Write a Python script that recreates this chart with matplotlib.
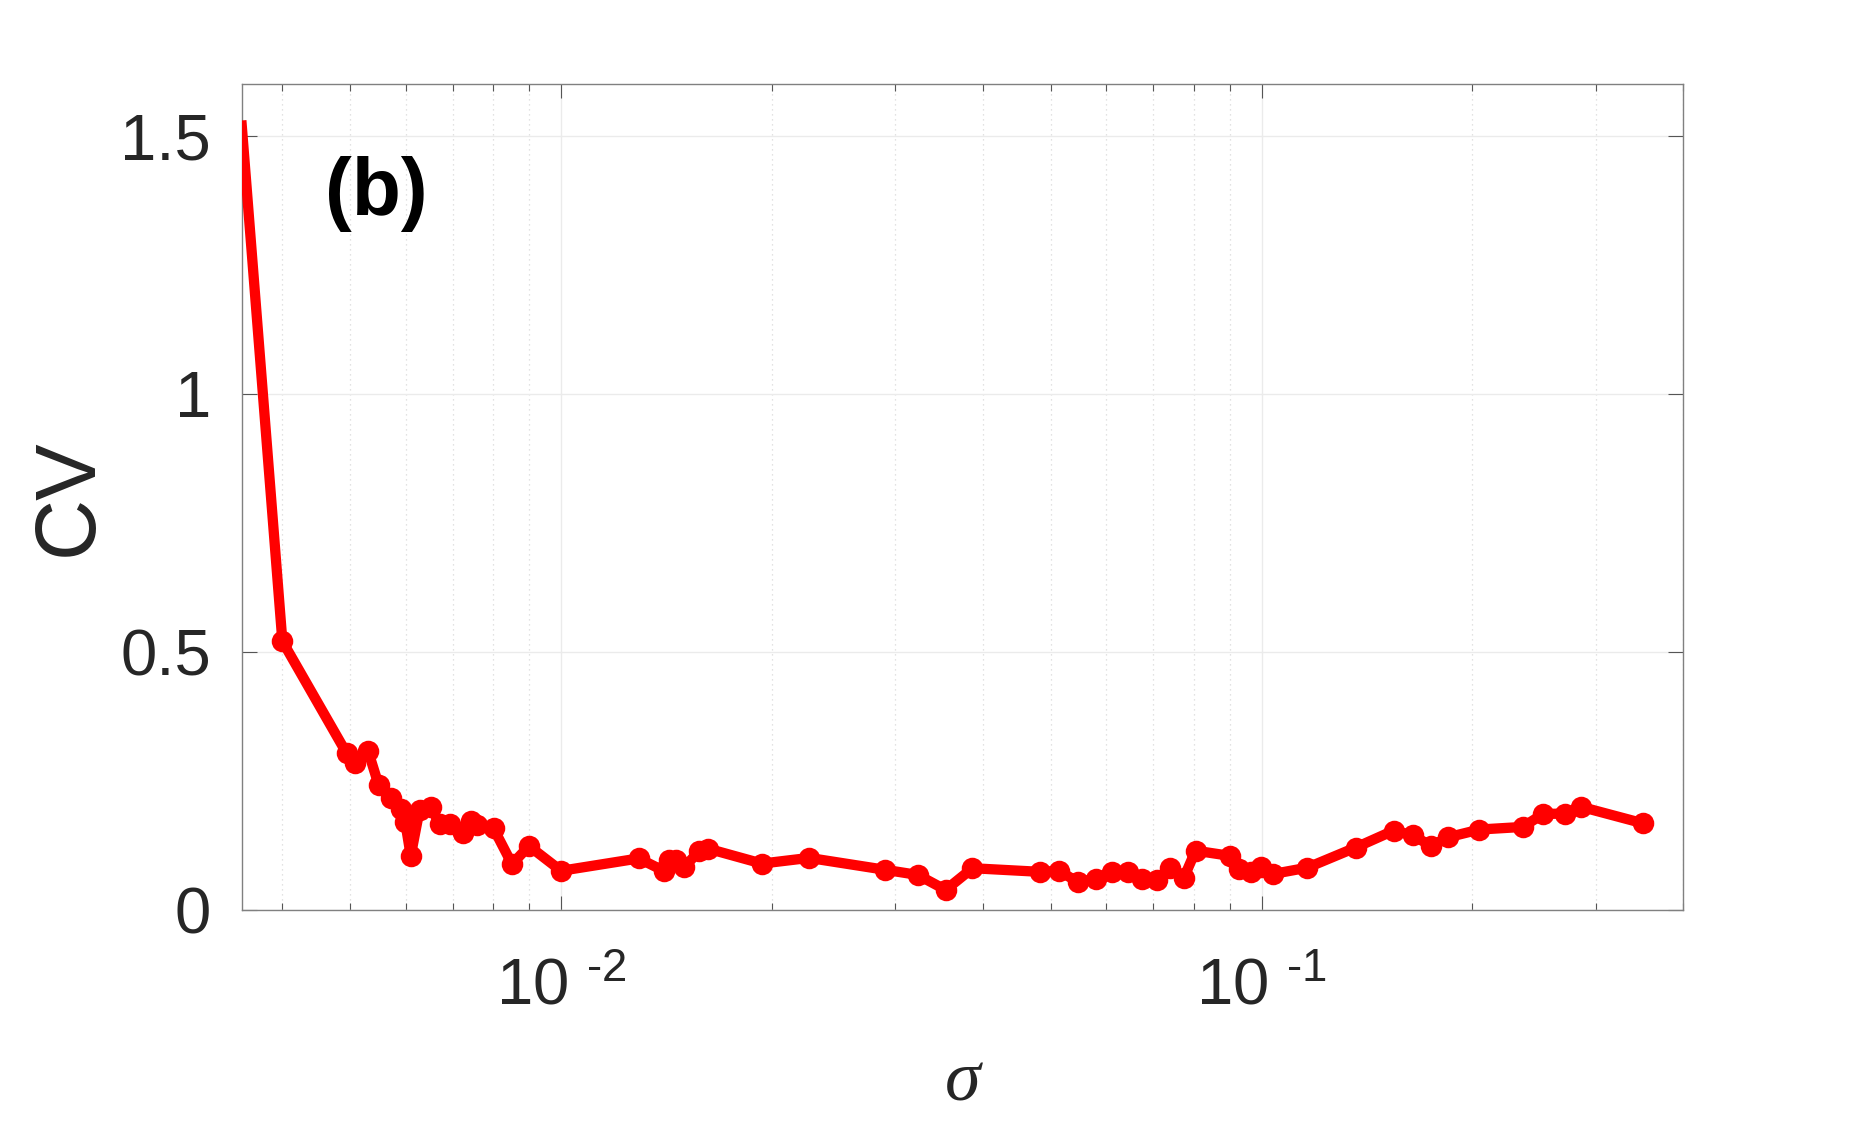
import matplotlib
matplotlib.use("Agg")
import matplotlib.pyplot as plt
from matplotlib.ticker import FixedLocator, FixedFormatter, LogLocator, NullFormatter

# data (sigma on log axis, CV linear)
sigma = [3.5e-3, 4.00e-3, 4.94e-3, 5.08e-3, 5.30e-3, 5.49e-3, 5.71e-3, 5.91e-3,
         5.99e-3, 6.10e-3, 6.28e-3, 6.51e-3, 6.71e-3, 6.94e-3, 7.24e-3, 7.44e-3,
         7.58e-3, 8.01e-3, 8.51e-3, 9.00e-3, 1.00e-2, 1.291e-2, 1.401e-2, 1.427e-2,
         1.459e-2, 1.50e-2, 1.575e-2, 1.62e-2, 1.935e-2, 2.26e-2, 2.90e-2, 3.23e-2,
         3.54e-2, 3.866e-2, 4.83e-2, 5.14e-2, 5.47e-2, 5.80e-2, 6.12e-2, 6.45e-2,
         6.76e-2, 7.08e-2, 7.40e-2, 7.75e-2, 8.05e-2, 9.01e-2, 9.29e-2, 9.65e-2,
         9.99e-2, 0.104, 0.1162, 0.1362, 0.1544, 0.1643, 0.1746, 0.1846,
         0.2047, 0.2359, 0.2523, 0.2715, 0.2858, 0.3504]
cv = [1.52, 0.521, 0.304, 0.284, 0.309, 0.242, 0.218, 0.195,
      0.171, 0.105, 0.194, 0.199, 0.167, 0.167, 0.150, 0.173,
      0.165, 0.158, 0.089, 0.124, 0.076, 0.100, 0.076, 0.097,
      0.097, 0.083, 0.115, 0.119, 0.090, 0.101, 0.078, 0.068,
      0.039, 0.081, 0.074, 0.076, 0.054, 0.061, 0.074, 0.074,
      0.061, 0.059, 0.081, 0.063, 0.115, 0.105, 0.079, 0.074,
      0.083, 0.070, 0.082, 0.121, 0.154, 0.145, 0.124, 0.141,
      0.156, 0.161, 0.186, 0.187, 0.200, 0.168]

yticks = [0, 0.5, 1, 1.5]
ytick_labels = ["0", "0.5", "1", "1.5"]
xticks = [1e-2, 1e-1]
# short hyphen (U+2010) in the exponent, like the original
xtick_labels = ["$10^{\\;\\,\\mathregular{\u20102}}$", "$10^{\\;\\,\\mathregular{\u20101}}$"]

plt.rcParams["font.family"] = ["Liberation Sans", "DejaVu Sans"]
plt.rcParams["mathtext.fontset"] = "custom"
plt.rcParams["mathtext.rm"] = "Liberation Sans"
plt.rcParams["mathtext.it"] = "Liberation Sans:italic"
plt.rcParams["mathtext.bf"] = "Liberation Sans:bold"

fig = plt.figure(figsize=(18.61, 11.21), dpi=100)
ax = fig.add_axes([0.1299, 0.1882, 0.7746, 0.7366])

red = "#ff0000"
ax.plot(sigma, cv, "-", color=red, lw=7.4, zorder=3)
ax.plot(sigma[1:], cv[1:], "o", color=red, ms=14, mew=1.5, mec=red, zorder=4)

ax.set_xscale("log")
ax.set_xlim(3.5e-3, 0.4)
ax.set_ylim(0, 1.6)

ax.xaxis.set_major_locator(FixedLocator(xticks))
ax.xaxis.set_major_formatter(FixedFormatter(xtick_labels))
ax.xaxis.set_minor_locator(LogLocator(base=10, subs=range(2, 10)))
ax.xaxis.set_minor_formatter(NullFormatter())
ax.yaxis.set_major_locator(FixedLocator(yticks))
ax.yaxis.set_major_formatter(FixedFormatter(ytick_labels))

axis_col = "#808080"
for sp in ax.spines.values():
    sp.set_color(axis_col)
    sp.set_linewidth(1.0)

ax.tick_params(which="both", direction="in", top=True, right=True,
               color="#555555", width=0.8, labelcolor="#262626", labelsize=47)
ax.tick_params(axis="y", which="major", length=11, pad=22)
ax.tick_params(axis="x", which="major", length=10, pad=34)
ax.tick_params(axis="x", which="minor", length=5)

ax.grid(True, which="major", color="#ebebeb", lw=1.0, zorder=0)
ax.grid(True, which="minor", axis="x", color="#d9d9d9", lw=0.9, ls=(0, (1, 3)), zorder=0)
ax.set_axisbelow(True)

ax.set_ylabel("CV", fontsize=61, color="#262626", va="center")
ax.yaxis.set_label_coords(-0.119, 0.5)
ax.set_xlabel("σ", fontsize=52, color="#262626", family=["Liberation Serif", "DejaVu Serif"],
              style="italic", va="top")
ax.xaxis.set_label_coords(0.5, -0.17)

ax.text(0.0578, 0.867, "(b)", transform=ax.transAxes, fontsize=58,
        fontweight="bold", ha="left", va="center", color="black")

fig.savefig("out.png", dpi=100, facecolor="white")
